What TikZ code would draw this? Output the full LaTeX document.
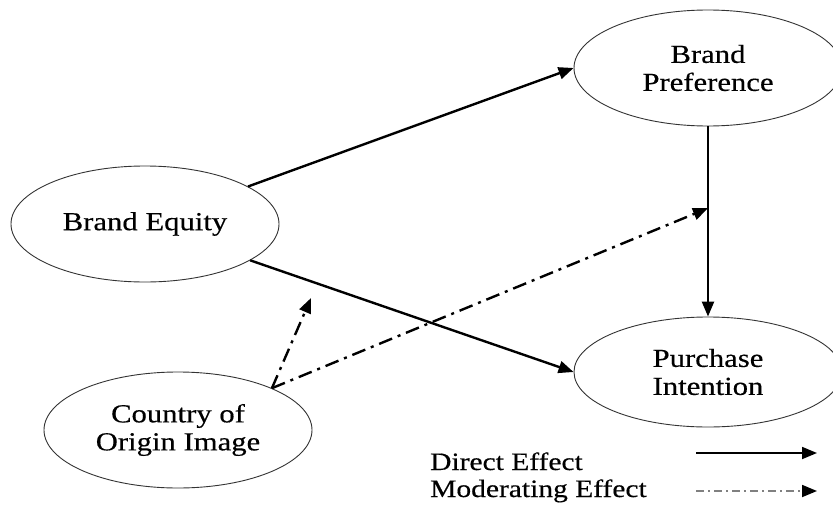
\documentclass[tikz,border=0pt]{standalone}
\usepackage{fontspec}
\setmainfont{Liberation Serif}[FakeStretch=1.18, FakeBold=0.4]
\usetikzlibrary{shapes.geometric, arrows.meta, calc}
\begin{document}
\begin{tikzpicture}[x = 1pt, y = -1pt,
		construct/.style = {ellipse, draw = black!80, line width = 0.9pt, minimum width = 268pt, minimum height = 116pt, inner sep = 0pt, align = center, font = \fontsize{26}{28}\selectfont},
		direct/.style = {line width = 2.4pt, -{Triangle[length = 15pt, width = 12pt]}},
		moderating/.style = {line width = 2.4pt, dash pattern = on 14pt off 6pt on 3pt off 6pt, -{Triangle[length = 15pt, width = 12pt]}},
		legend/.style = {anchor = base west, inner sep = 0pt, font = \fontsize{25}{27}\selectfont}]
	\useasboundingbox (0, 0) rectangle (833, 506);
	% constructs
	\node[construct] (be) at (145, 224) {Brand Equity};
	\node[construct] (coo) at (178, 430) {Country of\\Origin Image};
	\node[construct] (bp) at (708, 68) {Brand\\Preference};
	\node[construct, minimum height = 110pt] (pi) at (708, 372) {Purchase\\Intention};
	% direct effects
	\draw[direct] (be) -- (bp.west);
	\draw[direct] (be) -- (pi.west);
	\draw[direct] (bp) -- (pi);
	% moderating effects
	\coordinate (mj) at ($(bp.south)!0.43!(pi.north)$);
	\coordinate (mb) at (311, 298);
	\draw[moderating] (coo.24) -- (mj);
	\draw[moderating] (coo.24) -- (mb);
	% legend
	\node[legend] (ld) at (430, 470) {Direct Effect};
	\node[legend] (lm) at (430, 497) {Moderating Effect};
	\coordinate (ds) at (696, 453);
	\coordinate (de) at (817, 453);
	\coordinate (ms) at (696, 491);
	\coordinate (me) at (817, 491);
	\draw[line width = 1.8pt, -{Triangle[length = 15pt, width = 12pt]}] (ds) -- (de);
	\draw[line width = 1.8pt, gray, dash pattern = on 8pt off 4pt on 2pt off 4pt, -{Triangle[length = 15pt, width = 12pt, black]}] (ms) -- (me);
\end{tikzpicture}
\end{document}
